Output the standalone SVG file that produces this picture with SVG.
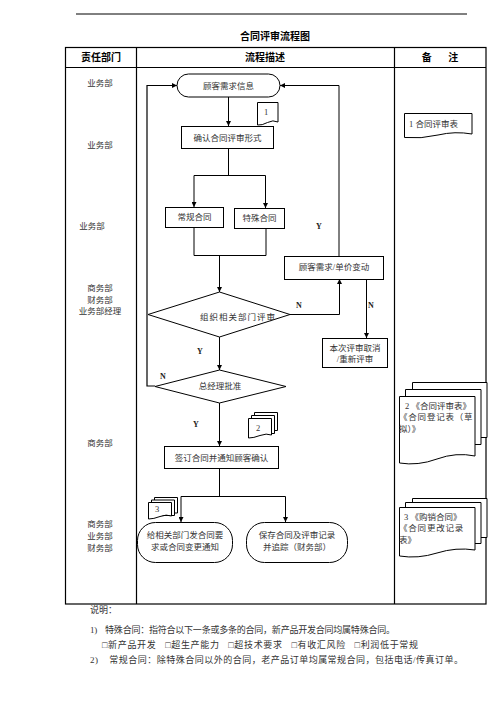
<svg xmlns="http://www.w3.org/2000/svg" width="496" height="702" viewBox="0 0 496 702">
<defs>
<marker id="arr" viewBox="0 0 10 10" refX="10" refY="5" markerWidth="5" markerHeight="5" orient="auto" markerUnits="userSpaceOnUse"><path d="M0,0 L10,5 L0,10 z" fill="#000"/></marker>
<style>
.t{font-family:"Liberation Serif","Noto Sans CJK SC",serif;font-size:8.5px;fill:#333;text-anchor:middle;dominant-baseline:central}
.tl{font-family:"Liberation Serif","Noto Sans CJK SC",serif;font-size:8.5px;fill:#333;dominant-baseline:central}
.n{font-family:"Liberation Serif",serif;font-size:8px;font-weight:bold;fill:#222;text-anchor:middle;dominant-baseline:central}
.b{font-family:"Liberation Sans","Noto Sans CJK SC",sans-serif;font-weight:bold;font-size:10px;fill:#000;text-anchor:middle;dominant-baseline:central}
.s{fill:#fff;stroke:#000;stroke-width:1}
.l{fill:none;stroke:#000;stroke-width:1}
.a{marker-end:url(#arr)}
.g{fill:none;stroke:#000;stroke-width:1.2}
</style>
</defs>
<rect width="496" height="702" fill="#fff"/>
<line x1="76" y1="14" x2="467" y2="14" stroke="#000" stroke-width="1"/>
<text class="b" x="275" y="36">合同评审流程图</text>
<g id="table">
<rect x="65.5" y="47.5" width="420.5" height="556.5" class="g"/>
<line x1="65.5" y1="67.5" x2="486" y2="67.5" class="g"/>
<line x1="136.5" y1="47.5" x2="136.5" y2="604" class="g"/>
<line x1="394.5" y1="47.5" x2="394.5" y2="604" class="g"/>
<text class="b" x="101" y="57.5">责任部门</text>
<text class="b" x="265" y="57.5">流程描述</text>
<text class="b" x="440" y="57.5" xml:space="preserve">备      注</text>
</g>
<g id="depts">
<text class="t" x="100" y="83">业务部</text>
<text class="t" x="100" y="145">业务部</text>
<text class="t" x="92" y="226">业务部</text>
<text class="t" x="100" y="288">商务部</text>
<text class="t" x="100" y="299.5">财务部</text>
<text class="t" x="100" y="311">业务部经理</text>
<text class="t" x="100" y="443">商务部</text>
<text class="t" x="100" y="524">商务部</text>
<text class="t" x="100" y="536">业务部</text>
<text class="t" x="100" y="547.5">财务部</text>
</g>
<g id="connectors">
<polyline class="g a" points="155,386 147,386 147,85.5 177,85.5"/>
<polyline class="l a" points="339,256 339,85.5 280,85.5"/>
<line class="l a" x1="228.5" y1="97" x2="228.5" y2="126"/>
<polyline class="l" points="228.5,148 228.5,175.5"/>
<line class="l" x1="194" y1="175.5" x2="265.5" y2="175.5"/>
<line class="l a" x1="194" y1="175.5" x2="194" y2="207"/>
<line class="l a" x1="265.5" y1="175.5" x2="265.5" y2="208"/>
<polyline class="l" points="194,227 194,255.5 266,255.5 266,228"/>
<line class="l a" x1="219.5" y1="255.5" x2="219.5" y2="292"/>
<polyline class="l a" points="290,314.5 339.5,314.5 339.5,279"/>
<line class="l a" x1="366.5" y1="279" x2="366.5" y2="338"/>
<line class="l a" x1="219.5" y1="337" x2="219.5" y2="370"/>
<line class="l a" x1="219.5" y1="403" x2="219.5" y2="446"/>
<line class="l" x1="219.5" y1="468" x2="219.5" y2="496.5"/>
<line class="l" x1="181" y1="496.5" x2="285.5" y2="496.5"/>
<line class="l a" x1="181" y1="496.5" x2="181" y2="522"/>
<line class="l a" x1="285.5" y1="496.5" x2="285.5" y2="522"/>
<text class="n" x="319" y="226">Y</text>
<text class="n" x="299" y="305">N</text>
<text class="n" x="371" y="305">N</text>
<text class="n" x="200" y="351">Y</text>
<text class="n" x="163" y="376">N</text>
<text class="n" x="196" y="424">Y</text>
</g>
<g id="n_start">
<rect class="s" x="177" y="74" width="103" height="23" rx="11.5"/>
<text class="t" x="228.5" y="85.5">顾客需求信息</text>
</g>
<g id="doc1">
<path class="s" d="M257.5,102.5 H278 V122 Q273,119.5 267.5,122.5 T257.5,125 Z"/>
<text class="t" x="266" y="112">1</text>
</g>
<g id="n_confirm">
<rect class="s" x="181.5" y="126.5" width="92" height="22"/>
<text class="t" x="227.5" y="137.5">确认合同评审形式</text>
</g>
<g id="n_normal">
<rect class="s" x="165.5" y="207.5" width="58" height="20"/>
<text class="t" x="194.5" y="217">常规合同</text>
</g>
<g id="n_special">
<rect class="s" x="234.5" y="208.5" width="50" height="20"/>
<text class="t" x="259.5" y="218">特殊合同</text>
</g>
<g id="n_change">
<rect class="s" x="284.5" y="256.5" width="99" height="23"/>
<text class="t" x="334" y="267">顾客需求/单价变动</text>
</g>
<g id="n_review">
<polygon class="s" points="148,314.5 219.5,292 290,314.5 219.5,337"/>
<text class="t" x="238" y="317" style="letter-spacing:1px">组织相关部门评审</text>
</g>
<g id="n_cancel">
<rect class="s" x="322.5" y="338.5" width="65" height="29"/>
<text class="t" x="355" y="347.5">本次评审取消</text>
<text class="t" x="355" y="358.5">/重新评审</text>
</g>
<g id="n_gm">
<polygon class="s" points="155,386.5 219.5,370 286,386.5 219.5,403"/>
<text class="t" x="220" y="386">总经理批准</text>
</g>
<g id="doc2">
<path class="s" d="M254.5,412.5 H277.5 V430.5 H254.5 Z"/>
<path class="s" d="M251.5,415.5 H274.5 V433.5 H251.5 Z"/>
<path class="s" d="M248.5,418.5 H271.5 V435 Q266.5,433 260,435.5 T248.5,438 Z"/>
<text class="t" x="258" y="428">2</text>
</g>
<g id="n_sign">
<rect class="s" x="164.5" y="446.5" width="114" height="22"/>
<text class="t" x="221.5" y="457.5">签订合同并通知顾客确认</text>
</g>
<g id="doc3">
<path class="s" d="M154.5,497.5 H177.5 V513 H154.5 Z"/>
<path class="s" d="M151.5,500 H174.5 V515.5 H151.5 Z"/>
<path class="s" d="M148.5,502.5 H171.5 V516 Q166.5,514 160,516.5 T148.5,519 Z"/>
<text class="t" x="157" y="509">3</text>
</g>
<g id="n_notify">
<rect class="s" x="137.5" y="522.5" width="95" height="40" rx="18"/>
<text class="t" x="185" y="535">给相关部门发合同要</text>
<text class="t" x="185" y="547">求或合同变更通知</text>
</g>
<g id="n_save">
<rect class="s" x="246.5" y="522.5" width="101" height="40" rx="18"/>
<text class="t" x="297" y="535">保存合同及评审记录</text>
<text class="t" x="297" y="547">并追踪（财务部）</text>
</g>
<g id="note1">
<path class="s" d="M404.5,113.5 H472 V134 Q455,131 438,135 T404.5,137.5 Z"/>
<text class="tl" x="409" y="123.5">1 合同评审表</text>
</g>
<g id="note2">
<path class="s" d="M412.5,382.5 H487 V437.5 H412.5 Z"/>
<path class="s" d="M405.5,389.5 H481 V444.5 H405.5 Z"/>
<path class="s" d="M399.5,396.5 H475 V456 Q456,452 437,459 T399.5,463 Z"/>
<text class="tl" x="405" y="405.5">2 《合同评审表》</text>
<text class="tl" x="399" y="417" style="letter-spacing:0.8px">《合同登记表（草</text>
<text class="tl" x="399" y="428.5">拟）》</text>
</g>
<g id="note3">
<path class="s" d="M412.5,498.5 H487 V537.5 H412.5 Z"/>
<path class="s" d="M405.5,502.5 H481 V543.5 H405.5 Z"/>
<path class="s" d="M399.5,507.5 H475 V550 Q456,547 437,553 T399.5,556 Z"/>
<text class="tl" x="404" y="516.5">3 《购销合同》</text>
<text class="tl" x="399" y="528" style="letter-spacing:0.8px">《合同更改记录</text>
<text class="tl" x="399" y="539.5">表》</text>
</g>
<g id="notes">
<text class="tl" x="90" y="610" style="font-size:9px">说明：</text>
<text class="tl" x="90" y="630" style="font-size:9px" xml:space="preserve" textLength="305" lengthAdjust="spacing">1)    特殊合同：指符合以下一条或多条的合同，新产品开发合同均属特殊合同。</text>
<text class="tl" x="102" y="645" style="font-size:9px" xml:space="preserve" textLength="316" lengthAdjust="spacing">□新产品开发   □超生产能力   □超技术要求   □有收汇风险   □利润低于常规</text>
<text class="tl" x="90" y="660" style="font-size:9px" xml:space="preserve" textLength="373" lengthAdjust="spacing">2)    常规合同：除特殊合同以外的合同，老产品订单均属常规合同，包括电话/传真订单。</text>
</g>
</svg>
